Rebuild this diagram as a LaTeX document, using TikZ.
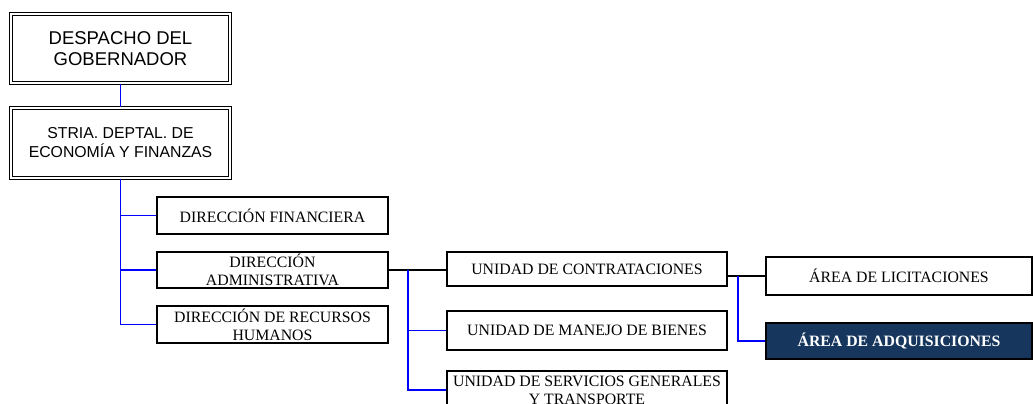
\documentclass[tikz,border=0pt]{standalone}
\usepackage{fontspec}
\setmainfont{Liberation Serif}
\newfontfamily\arialfont{Liberation Sans}
\usepackage{tikz}
\usetikzlibrary{calc}
\definecolor{navy}{RGB}{23,54,93}
\definecolor{linkblue}{RGB}{0,0,255}

\begin{document}
\begin{tikzpicture}[x=1pt, y=-1pt,
  every node/.style={align=center, inner sep=0pt},
  topbox/.style={draw=black, double=white, line width=1.1pt, double distance=1.6pt,
    minimum width=219.2pt},
  unitbox/.style={draw=black, line width=1.7pt, fill=white,
    font=\fontsize{15.8}{18}\selectfont},
  darkbox/.style={unitbox, fill=navy, text=white, font=\fontsize{15.8}{18}\selectfont\bfseries},
  bluelink/.style={linkblue, line width=1.9pt},
  blacklink/.style={black, line width=1.9pt}]
  \useasboundingbox (0,0) rectangle (1033,404);

  % cabeza
  \node[topbox, minimum height=69.2pt, font=\arialfont\fontsize{18.5}{21.7}\selectfont]
    at (120.5,48.5) (desp) {DESPACHO DEL\\GOBERNADOR};
  \node[topbox, minimum height=70.2pt, font=\arialfont\fontsize{15.8}{19}\selectfont]
    at (120.5,143) (stria) {STRIA. DEPTAL. DE\\ECONOMÍA Y FINANZAS};

  % direcciones
  \node[unitbox, minimum width=231pt, minimum height=37pt] at (272.5,215.5) (fin) {DIRECCIÓN FINANCIERA};
  \node[unitbox, minimum width=231pt, minimum height=36pt] at (272.5,270) (adm) {DIRECCIÓN\\ADMINISTRATIVA};
  \node[unitbox, minimum width=231pt, minimum height=37pt] at (272.5,324.5) (rrhh) {DIRECCIÓN DE RECURSOS\\HUMANOS};

  % unidades
  \node[unitbox, minimum width=280pt, minimum height=34pt] at (587,269) (contr) {UNIDAD DE CONTRATACIONES};
  \node[unitbox, minimum width=280pt, minimum height=39pt] at (587,330.5) (bienes) {UNIDAD DE MANEJO DE BIENES};
  \node[unitbox, minimum width=280pt, minimum height=38pt] at (587,390) (serv) {UNIDAD DE SERVICIOS GENERALES\\Y TRANSPORTE};

  % areas
  \node[unitbox, minimum width=266pt, minimum height=38pt] at (899,276) (licit) {ÁREA DE LICITACIONES};
  \node[darkbox, minimum width=266pt, minimum height=36pt] at (899,341) (adq) {ÁREA DE ADQUISICIONES};

  % conectores
  \draw[bluelink] (desp.south) -- (stria.north);
  \draw[bluelink] (stria.south) |- (fin.west);
  \draw[bluelink] (stria.south) |- (adm.west);
  \draw[bluelink] (stria.south) |- (rrhh.west);

  \draw[blacklink] (adm.east) -- (adm.east -| contr.west);
  \coordinate (admbus) at ($(adm.east)+(19,0)$);
  \draw[bluelink] (admbus) |- (bienes.west);
  \draw[bluelink] (admbus) |- (serv.west);

  \draw[blacklink] (licit.west -| contr.east) -- (licit.west);
  \coordinate (contrbus) at ($(licit.west -| contr.east)+(10,0)$);
  \draw[bluelink] (contrbus) |- (adq.west);
\end{tikzpicture}
\end{document}
